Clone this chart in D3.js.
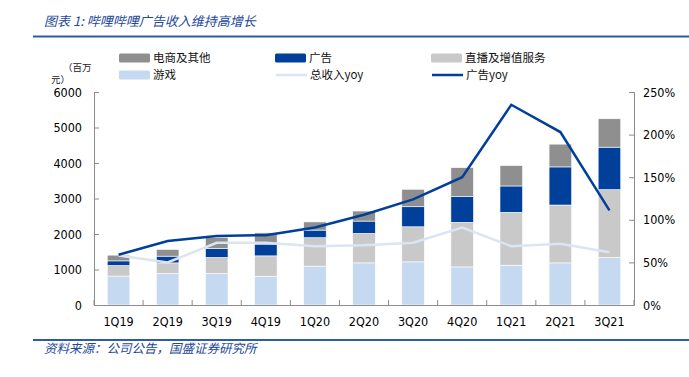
<!DOCTYPE html>
<html>
<head>
<meta charset="utf-8">
<script src="https://cdn.jsdelivr.net/npm/d3@7"></script>
<style>
  body { margin: 0; background: #fff; }
  svg { display: block; }
  .axis text { font-family: "DejaVu Sans Condensed", "DejaVu Sans", sans-serif; font-size: 12.5px; fill: #000; }
  .axis path, .axis line { stroke: #8c8c8c; }
  .legend text { font-family: "Noto Sans CJK SC", "DejaVu Sans", sans-serif; font-size: 11.5px; fill: #111; }
  .note { font-family: "Noto Sans CJK SC", sans-serif; font-style: italic; fill: #23489a; }
</style>
</head>
<body>
<svg id="chart" width="689" height="377"></svg>
<script>
var quarters = ["1Q19", "2Q19", "3Q19", "4Q19", "1Q20", "2Q20", "3Q20", "4Q20", "1Q21", "2Q21", "3Q21"];
var gameRev = [816, 887, 887, 811, 1095, 1186, 1215, 1073, 1121, 1186, 1339];
var liveRev = [297, 299, 452, 573, 800, 831, 988, 1255, 1489, 1630, 1910];
var adRev = [130, 190, 254, 331, 215, 347, 565, 723, 743, 1074, 1197];
var ecomRev = [161, 189, 311, 319, 230, 283, 492, 819, 574, 641, 800];
var totalYoy = [58, 50, 73, 73, 69, 70, 73, 91, 69, 72, 62];
var adYoy = [59, 75, 81, 82, 91, 106, 124, 150, 235, 203, 111];
var leftTicks = [0, 1000, 2000, 3000, 4000, 5000, 6000];
var rightTicks = [0, 0.5, 1, 1.5, 2, 2.5];

var svg = d3.select("#chart");

var margin = {top: 92, right: 55, bottom: 72, left: 94},
    width = +svg.attr("width") - margin.left - margin.right,
    height = +svg.attr("height") - margin.top - margin.bottom;

// title + rules
svg.append("text")
    .attr("class", "note")
    .attr("x", 44).attr("y", 26)
    .style("font-size", "13px")
    .text("图表 1:  哔哩哔哩广告收入维持高增长");

svg.append("line")
    .attr("x1", 33).attr("x2", 689).attr("y1", 36.5).attr("y2", 36.5)
    .attr("stroke", "#2c5ba8").attr("stroke-width", 2);

svg.append("line")
    .attr("x1", 33).attr("x2", 689).attr("y1", 340).attr("y2", 340)
    .attr("stroke", "#2c5ba8").attr("stroke-width", 2);

svg.append("text")
    .attr("class", "note")
    .attr("x", 44).attr("y", 352.5)
    .style("font-size", "12.5px")
    .text("资料来源：公司公告，国盛证券研究所");

var g = svg.append("g")
    .attr("transform", "translate(" + margin.left + "," + margin.top + ")");

var data = quarters.map(function(q, i) {
  return {quarter: q, game: gameRev[i], live: liveRev[i], ad: adRev[i], ecom: ecomRev[i],
          totalYoy: totalYoy[i] / 100, adYoy: adYoy[i] / 100};
});

var keys = ["game", "live", "ad", "ecom"];
var colors = {game: "#c5d9f1", live: "#c9c9c9", ad: "#00409a", ecom: "#8f8f8f"};

var x = d3.scaleBand()
    .domain(quarters)
    .range([0, width])
    .paddingInner(0.54)
    .paddingOuter(0.27);

var y = d3.scaleLinear()
    .domain([0, 6000])
    .range([height, 0]);

var y2 = d3.scaleLinear()
    .domain([0, 2.5])
    .range([height, 0]);

var series = d3.stack().keys(keys)(data);

g.append("g").selectAll("g")
    .data(series)
  .enter().append("g")
    .attr("fill", function(s) { return colors[s.key]; })
  .selectAll("rect")
    .data(function(s) { return s; })
  .enter().append("rect")
    .attr("x", function(d) { return x(d.data.quarter); })
    .attr("y", function(d) { return y(d[1]); })
    .attr("width", x.bandwidth())
    .attr("height", function(d) { return y(d[0]) - y(d[1]); })
    .attr("stroke", "#fff")
    .attr("stroke-width", 0.6);

// axes
g.append("g")
    .attr("class", "axis axis--y")
    .call(d3.axisLeft(y).tickValues(leftTicks).tickFormat(d3.format("d")).tickSize(-5).tickPadding(12));

g.append("g")
    .attr("class", "axis axis--y2")
    .attr("transform", "translate(" + width + ",0)")
    .call(d3.axisRight(y2).tickValues(rightTicks).tickFormat(d3.format(".0%")).tickSize(-5).tickPadding(9));

var xAxis = g.append("g")
    .attr("class", "axis axis--x")
    .attr("transform", "translate(0," + height + ")")
    .call(d3.axisBottom(x).tickSize(0).tickPadding(12));

xAxis.select(".domain").attr("d", "M0,0.5H" + width);

xAxis.selectAll(".sep")
    .data(d3.range(quarters.length + 1))
  .enter().append("line")
    .attr("class", "sep")
    .attr("x1", function(i) { return i * x.step(); })
    .attr("x2", function(i) { return i * x.step(); })
    .attr("y1", 0).attr("y2", -5);

// yoy lines
var line = function(key) {
  return d3.line()
      .x(function(d) { return x(d.quarter) + x.bandwidth() / 2; })
      .y(function(d) { return y2(d[key]); });
};

g.append("path")
    .datum(data)
    .attr("fill", "none")
    .attr("stroke", "#dbe5f2")
    .attr("stroke-width", 2.5)
    .attr("d", line("totalYoy"));

g.append("path")
    .datum(data)
    .attr("fill", "none")
    .attr("stroke", "#00409a")
    .attr("stroke-width", 2.5)
    .attr("d", line("adYoy"));

// unit label
svg.append("text")
    .attr("x", 63).attr("y", 71)
    .style("font-family", "Noto Sans CJK SC").style("font-size", "9.5px").attr("fill", "#222")
    .text("（百万");
svg.append("text")
    .attr("x", 51).attr("y", 83)
    .style("font-family", "Noto Sans CJK SC").style("font-size", "9.5px").attr("fill", "#222")
    .text("元）");

// legend
var legendItems = [
  {label: "电商及其他", color: colors.ecom, type: "box", x: 119, y: 58},
  {label: "广告", color: colors.ad, type: "box", x: 275, y: 58},
  {label: "直播及增值服务", color: colors.live, type: "box", x: 431, y: 58},
  {label: "游戏", color: colors.game, type: "box", x: 119, y: 75},
  {label: "总收入yoy", color: "#dbe5f2", type: "line", x: 276, y: 75},
  {label: "广告yoy", color: "#00409a", type: "line", x: 432, y: 75}
];

var legend = svg.append("g").attr("class", "legend")
  .selectAll("g")
    .data(legendItems)
  .enter().append("g")
    .attr("transform", function(d) { return "translate(" + d.x + "," + d.y + ")"; });

legend.filter(function(d) { return d.type === "box"; })
  .append("rect")
    .attr("x", 0).attr("y", -4.5)
    .attr("width", 31).attr("height", 9)
    .attr("rx", 1.5)
    .attr("fill", function(d) { return d.color; });

legend.filter(function(d) { return d.type === "line"; })
  .append("line")
    .attr("x1", 0).attr("x2", 31)
    .attr("stroke", function(d) { return d.color; })
    .attr("stroke-width", 2.5);

legend.append("text")
    .attr("x", 34)
    .attr("dy", "0.36em")
    .text(function(d) { return d.label; });
</script>
</body>
</html>
